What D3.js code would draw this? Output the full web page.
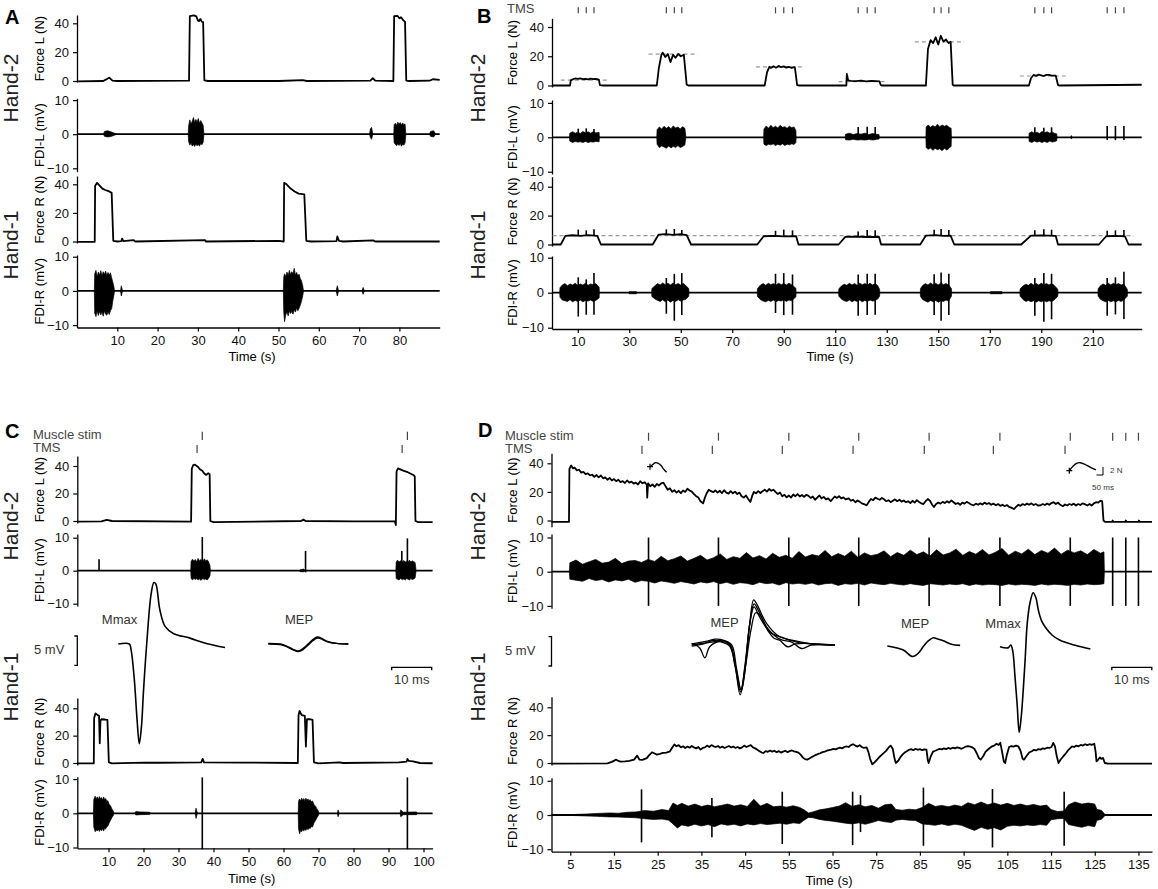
<!DOCTYPE html>
<html>
<head>
<meta charset="utf-8">
<script src="https://cdn.jsdelivr.net/npm/d3@7"></script>
<style>
body { margin: 0; background: #fff; }
svg { font-family: "Liberation Sans", Arial, sans-serif; }
.axis .domain { stroke: #000; stroke-width: 1.3; }
.axis line { stroke: #000; stroke-width: 1.2; }
.axis text { font-size: 13px; fill: #111; }
</style>
</head>
<body>
<script>
// ---------- panel A ----------
var aForceL = [[0,-0.3],[6.5,0],[7.5,1.5],[8,2.3],[8.8,0.3],[10,0],[27.8,0.2],[28,45],[29,45.5],[29.6,44.8],[30,42],[30.3,41.5],[30.6,43],[31,41],[31.3,40.8],[31.6,0.5],[32.5,0],[50,0],[56,0.6],[57,0],[72.8,0.3],[73.4,2],[74,0.2],[78.5,0],[78.7,45],[79.5,45.2],[80,43.5],[80.4,44.2],[81,42],[81.4,41],[81.7,0.3],[82.5,0],[87.5,0.2],[88.3,1.2],[90,0.8]];
var aEmgL = [
  [[27.6,0,0],[27.7,2.5,-2.2],[28,4.2,-3.2],[28.3,3,-2.6],[28.6,3.8,-3.5],[28.9,4.9,-3],[29.2,3.4,-3.6],[29.5,4.3,-2.9],[29.8,3.6,-3.4],[30.1,4.6,-3],[30.4,3.2,-3.5],[30.7,4,-2.7],[31,3.3,-3.1],[31.3,2.6,-2.4],[31.5,0,0]],
  [[78.6,0,0],[78.7,2.8,-2.5],[79,3.2,-3],[79.3,2.6,-3.4],[79.6,3.5,-2.8],[79.9,2.9,-3.3],[80.2,3.4,-2.7],[80.5,2.7,-3.5],[80.8,3.3,-3],[81.1,2.8,-3.2],[81.4,3,-2.6],[81.6,0,0]],
  [[6.6,0,0],[6.8,0.8,-0.6],[7.6,1,-0.8],[8.4,0.7,-0.7],[9.9,0,0]],
  [[72.6,0,0],[72.8,1.6,-1],[73.1,2,-1.5],[73.4,0,0]],
  [[87.5,0,0],[87.7,0.8,-0.6],[88.5,1,-0.8],[89,0,0]]
];
var aForceR = [[0,-0.3],[4.4,-0.2],[4.5,39],[5,41],[5.5,39.5],[6.3,37],[7,36],[8,35],[8.6,34],[9,0.5],[10,0],[11,0.3],[11.2,2],[11.5,0.2],[14,1],[14.5,0],[31.8,1],[32,0],[50,0.5],[51.3,0],[51.4,41],[52,40],[53,37],[54,35],[55,33.5],[56.4,33],[56.9,0.5],[58,0],[64.4,0.3],[64.6,3.5],[65,0.5],[66,0],[73.5,0.8],[74,0],[90,0]];
var aEmgR = [
  [[4.3,0,0],[4.4,5,-6.5],[4.7,6,-7.5],[5,4.2,-5.8],[5.3,5.5,-7.2],[5.6,4.6,-6],[5.9,5.9,-7],[6.2,4.4,-6.2],[6.5,5.6,-7.4],[6.8,4.8,-5.9],[7.1,5.8,-6.8],[7.4,4.5,-7.1],[7.7,5.4,-6.2],[8,4.6,-6.9],[8.3,5.3,-5.8],[8.6,3.8,-5.2],[8.9,2.5,-2.8],[9.2,1,-1],[9.3,0,0]],
  [[51.2,0,0],[51.3,4,-6],[51.5,5,-9],[51.8,4.2,-7],[52.1,5.5,-6.2],[52.4,4.5,-7.3],[52.7,6,-5.9],[53,4.8,-6.6],[53.3,5.6,-6],[53.6,5,-6.8],[53.9,6.6,-5.5],[54.2,4.6,-6.2],[54.5,5.4,-5],[54.8,4.4,-5.8],[55.1,4.9,-5.1],[55.4,3.6,-4.2],[55.7,3,-3],[56,1.5,-1.5],[56.2,0,0]],
  [[10.8,0,0],[11,1.5,-1.5],[11.3,0,0]],
  [[64.3,0,0],[64.6,1.5,-1.5],[64.9,0,0]],
  [[70.7,0,0],[71,1,-1],[71.3,0,0]]
];

// ---------- panel B ----------
var bTms = [10.2,13.3,16.3,44.4,47.5,50.4,86.8,90,93.4,118.9,122.4,125.5,148.4,151.1,154.1,187.5,191,194,215.6,218.8,222.1];
var bForceL = [[0,0],[7,0],[7.3,3.5],[8,4.2],[9,4.8],[10,4.5],[11,4.9],[12,4.4],[13,4.6],[14,4.2],[15,4.7],[16,4.3],[17,4.5],[18.2,4],[18.6,0.3],[20,0],[40.7,0],[41.5,12],[42.5,21],[43,22.5],[44,19.5],[45,21.5],[46,16],[47,21],[48,19],[49,21.5],[50,20],[51.2,21],[52.3,0.5],[53,0],[82.6,0],[83.5,9],[84.4,12.8],[85,12],[86,13.2],[87,12.2],[88,13.4],[89,12.5],[90,13.1],[91,12.2],[92,12.8],[93,12.1],[94.3,12.5],[95.2,0.3],[96,0],[114.3,0],[114.5,8],[115,3.5],[116,3.2],[118,3],[120,3.3],[122,2.8],[124,3.1],[126,3],[127.2,2.8],[127.6,0.5],[128,0],[145.2,0],[146,25],[147,31],[148,29],[149,33],[150,28],[151,34],[152,30],[153,31.5],[154,29],[154.8,30],[155.6,0.5],[156,0],[185.2,0],[186,5],[187,7.2],[188,6.6],[189,7.4],[190,7],[191,6.5],[192,7.3],[193,7.3],[194,6.7],[195.6,6.8],[196.5,0.3],[197,0],[229,0.5]];
var bTargetL = [[3.4,21.6,3.7],[37.5,56.6,21.4],[79.2,98.3,12.8],[111.3,130.4,2.6],[140.9,160,29.8],[181.7,200,6.5]];
var bEmgL = [
  [[6.8,0,0],[6.9,1.2,-1.1],[8,1.6,-1.5],[9,1.2,-1.2],[10,1.5,-1.4],[11,1.1,-1.3],[12,1.7,-1.5],[13,1.3,-1.2],[14,1.6,-1.5],[15,1.2,-1.3],[16,1.6,-1.4],[17,1.3,-1.2],[18.3,1.4,-1.3],[18.4,0,0]],
  [[40.7,0,0],[40.8,2.2,-2],[41.7,3,-3],[42.6,2.4,-2.5],[43.5,3.2,-2.8],[44.4,2.6,-3.2],[45.3,3.1,-2.5],[46.2,2.5,-3.1],[47.1,3.3,-2.6],[48,2.7,-3],[48.9,3,-2.4],[49.8,2.4,-3],[50.7,3.1,-2.7],[51.6,2.6,-2.2],[52,0,0]],
  [[82.2,0,0],[82.3,2.4,-2],[83.2,3.3,-2.4],[84.1,2.6,-2],[85,3.5,-2.2],[85.9,2.8,-1.9],[86.8,3.2,-2.4],[87.7,2.7,-2],[88.6,3.5,-2.3],[89.5,2.9,-1.9],[90.4,3.1,-2.4],[91.3,2.6,-2],[92.2,3.2,-2.2],[93.1,2.8,-1.9],[94,3,-2.1],[94.7,2,-1.5],[94.8,0,0]],
  [[113.9,0,0],[114,0.9,-0.7],[115.5,1.2,-0.8],[117,0.8,-0.6],[118.5,1.1,-0.8],[120,0.9,-0.7],[121.5,1.2,-0.8],[123,0.8,-0.6],[124.5,1.1,-0.8],[126,0.9,-0.6],[127,0.8,-0.5],[127.1,0,0]],
  [[145.2,0,0],[145.3,3,-3],[146.1,3.6,-3.5],[147,2.9,-3.1],[147.9,3.4,-3.8],[148.8,3,-3.2],[149.7,3.8,-3.6],[150.6,3.1,-3.3],[151.5,3.6,-3.9],[152.4,3.2,-3.2],[153.3,3.5,-3.7],[154.2,2.9,-3.2],[155,2.6,-2.6],[155.1,0,0]],
  [[185.2,0,0],[185.3,1.2,-1.2],[186.3,1.6,-1.5],[187.3,1.2,-1.1],[188.3,1.5,-1.4],[189.3,1.1,-1.2],[190.3,1.7,-1.5],[191.3,1.3,-1.2],[192.3,1.6,-1.5],[193.3,1.2,-1.1],[194.3,1.5,-1.4],[195.3,1.1,-1.2],[196,1,-1],[196.1,0,0]],
  [[201.4,0,0],[201.7,0.5,-0.5],[202,0,0]]
];
var bSpikesL = [[10.2,2.5,-1],[13.3,2.6,-1],[16.3,2.4,-1],[118.9,3,-0.8],[122.4,3.1,-0.8],[125.5,3,-0.8],[187.5,2.9,-1],[191,2.8,-1],[194,2.9,-1],[215.6,3.3,-0.8],[218.8,3.3,-0.8],[222.1,3.3,-0.8]];
var bForceR = [[0,0],[3.4,0],[5.2,6],[8,6.4],[11,6],[14,6.5],[17.6,6],[19,0],[39.1,0],[41.4,6.9],[44,7.2],[47,6.7],[50,7.1],[52.3,6.5],[54,0],[79.7,0],[82.2,5.7],[86,6],[90,5.6],[94.8,5.8],[95.7,0],[111.3,0],[113.9,5.3],[118,5.5],[122,5.2],[127,5.3],[127.8,0],[143,0],[145.2,6.2],[149,6.5],[152,6],[154.8,6.2],[156.2,0],[182.2,0],[186,6.2],[190,6.3],[195.6,6],[196.5,0],[212.4,0],[215.2,5.7],[219,5.9],[222.5,5.6],[223.9,0],[229,0]];
var bTwitchR = [[10.2,10.3,6],[13.3,9.8,6],[16.3,10.5,6],[44.4,10.5,7],[47.5,10.7,7],[50.4,10,7],[86.8,9.5,6],[90,10.3,6],[93.4,9.8,6],[118.9,9,5.3],[122.4,10,5.3],[125.5,9.8,5.3],[148.4,10.2,6],[151.1,10.8,6],[154.1,10,6],[187.5,9.8,6],[191,10.5,6],[194,10.2,6],[215.6,9.5,5.7],[218.8,9.8,5.7],[222.1,10,5.7]];
var bTargetR = [[0.2,226,6.2]];
var bEmgR = [
  [[3,0,0],[3.1,1.4,-1.3],[4,2.2,-2.1],[5,2.6,-2.3],[6,2,-2.5],[7,2.5,-2],[8,2.2,-2.6],[9,2.7,-2.2],[10,2.1,-2.5],[11,2.5,-2.1],[12,2.2,-2.6],[13,2.7,-2.2],[14,2.1,-2.4],[15,2.5,-2.1],[16,2.3,-2.5],[17,2.6,-2.2],[18.3,1.6,-1.5],[18.4,0,0]],
  [[38.7,0,0],[38.8,1.2,-1.1],[40,2,-1.8],[41,2.6,-2.2],[42,2.2,-2.5],[43,2.8,-2],[44,2.3,-2.6],[45,2.7,-2.1],[46,2.2,-2.7],[47,2.8,-2.2],[48,2.3,-2.5],[49,2.6,-2],[50,2.2,-2.4],[51,2.7,-2.1],[52,2,-1.9],[53.1,1.2,-1],[53.2,0,0]],
  [[79.7,0,0],[79.8,1.2,-1.1],[81,2.2,-2],[82,2.6,-2.4],[83,2.1,-2.6],[84,2.7,-2.2],[85,2.3,-2.5],[86,2.6,-2.1],[87,2.2,-2.6],[88,2.7,-2.2],[89,2.3,-2.4],[90,2.6,-2],[91,2.2,-2.5],[92,2.7,-2.1],[93,2.3,-2.3],[94.7,1.3,-1.2],[94.8,0,0]],
  [[111.3,0,0],[111.4,1.1,-1],[112.5,2,-1.9],[113.5,2.4,-2.3],[114.5,2.1,-2.5],[115.5,2.7,-2.1],[116.5,2.2,-2.6],[117.5,2.6,-2.2],[118.5,2.1,-2.5],[119.5,2.7,-2.1],[120.5,2.3,-2.6],[121.5,2.6,-2.2],[122.5,2.2,-2.5],[123.5,2.7,-2.1],[124.5,2.2,-2.4],[125.5,2.6,-2.2],[126.5,2,-1.8],[127.2,1,-1],[127.3,0,0]],
  [[143,0,0],[143.1,1.2,-1.1],[144,2.1,-2],[145,2.6,-2.4],[146,2.2,-2.7],[147,2.8,-2.2],[148,2.3,-2.6],[149,2.7,-2.2],[150,2.2,-2.7],[151,2.8,-2.3],[152,2.3,-2.5],[153,2.6,-2.1],[154,2.2,-2.4],[155.1,1.2,-1],[155.2,0,0]],
  [[181.7,0,0],[181.8,1.1,-1],[183,2,-2],[184,2.4,-2.5],[185,2.1,-2.2],[186,2.7,-2.6],[187,2.2,-2.3],[188,2.6,-2.7],[189,2.2,-2.3],[190,2.7,-2.6],[191,2.3,-2.2],[192,2.6,-2.6],[193,2.2,-2.3],[194,2.6,-2.5],[195,2.1,-2.1],[196.4,1,-1],[196.5,0,0]],
  [[212,0,0],[212.1,1.1,-1],[213,2,-1.9],[214,2.5,-2.3],[215,2.1,-2.6],[216,2.7,-2.2],[217,2.2,-2.6],[218,2.7,-2.3],[219,2.3,-2.6],[220,2.6,-2.2],[221,2.2,-2.5],[222,2.5,-2.1],[223.4,1,-1],[223.5,0,0]],
  [[29.7,0,0],[30,0.3,-0.3],[32.8,0.3,-0.3],[33.1,0,0]],
  [[170,0,0],[170.3,0.3,-0.3],[174.7,0.3,-0.3],[175,0,0]]
];
var bSpikesR = [[10.2,4.4,-6.8],[13.3,3.8,-6.3],[16.3,5.6,-6.3],[44.4,4.2,-6],[47.5,5.4,-8],[50.4,5.6,-6.4],[86.8,5.4,-5.8],[90,5.6,-6.4],[93.4,5.2,-6.3],[118.9,5.2,-6.6],[122.4,5.4,-6.4],[125.5,5.4,-6.3],[148.4,5.3,-6.4],[151.1,5.8,-8],[154.1,5.4,-6.4],[187.5,4.2,-6.6],[191,5.6,-8.3],[194,5.4,-7.6],[215.6,4.2,-6.6],[218.8,4.4,-6.2],[222.1,6,-7.5]];

// ---------- panel C ----------
var cStim = [36.8, 95.4];
var cTms = [35.3, 93.9];
var cForceL = [[1,-0.5],[8,-0.3],[9.5,0.8],[11,0],[33.6,-0.5],[33.8,38],[34.2,40.7],[34.7,41],[35.5,39.5],[36.1,37.6],[36.8,36.5],[37.3,34.7],[37.9,33.5],[38.5,34.7],[38.9,34],[39.1,0],[40,-0.8],[65,0],[65.7,1],[66.3,0],[80,-0.3],[91.8,-0.2],[92.1,-3],[92.3,36],[92.7,38.3],[94.2,36.6],[95.5,35.5],[97.1,33.5],[97.5,32.5],[97.7,0],[98.5,-0.8],[102.6,-0.8]];
var cEmgL = [
  [[33.5,0,0],[33.6,2.8,-2.4],[34,3.5,-2.8],[34.4,2.9,-2.3],[34.8,3.4,-2.7],[35.2,2.7,-2.4],[35.6,3.7,-2.8],[36,3,-2.5],[36.4,3.4,-2.9],[37,2.8,-2.4],[37.4,3.6,-2.7],[37.8,2.9,-2.5],[38.2,3.3,-2.8],[38.6,2.7,-2.3],[39,1.5,-1.5],[39.1,0,0]],
  [[92.1,0,0],[92.2,2.6,-2.4],[92.6,3.2,-2.6],[93,2.6,-2.8],[93.4,3,-2.4],[94,2.7,-2.7],[94.4,3.1,-2.5],[94.8,2.6,-2.8],[95.2,2.9,-2.4],[95.6,2.7,-2.6],[96,3.2,-2.8],[96.4,2.6,-2.4],[96.8,3,-2.7],[97.2,2.7,-2.5],[97.6,2.5,-2.2],[97.9,0,0]],
  [[64.5,0,0],[64.8,0.3,-0.3],[65.8,0.5,-0.3],[66.1,0,0]]
];
var cSpikesL = [[7.3,3.5,0],[36.8,10.2,0],[66.3,6,-0.5],[93.8,6,0],[95.4,9.8,0]];
var cForceR = [[1,-0.3],[5.8,-0.3],[5.9,33],[6.3,36.3],[6.9,35],[7.3,34.5],[7.5,14.4],[7.7,31],[8,32],[9,31.8],[9.7,31.5],[10.1,0.5],[11,-0.3],[20,0.3],[24,0.2],[36.5,0.5],[36.9,3],[37.3,0.5],[48,0.3],[64.1,0],[64.3,35],[64.6,38],[65.2,35],[66.1,34.4],[66.4,12],[66.7,32],[67.5,32],[68.3,31.5],[68.7,0.5],[70,-0.3],[76,0.5],[77,0],[93,0.5],[95.2,1],[95.4,3],[95.8,1.5],[97,1.2],[99,0],[102.6,-0.2]];
var cEmgR = [
  [[5.7,0,0],[5.8,4,-4],[6.2,5,-5.4],[6.5,4.2,-4.8],[6.8,4.8,-5.2],[7.1,4,-4.6],[7.4,4.9,-5.3],[7.7,4.2,-4.7],[8,4.6,-5.1],[8.3,3.9,-4.5],[8.6,4.8,-5.2],[8.9,4,-4.4],[9.2,4.3,-4.6],[9.5,3.5,-3.9],[9.8,3.7,-3.8],[10.2,2.6,-2.8],[10.6,2.2,-2],[11,1.2,-1.2],[11.4,0.6,-0.6],[11.5,0,0]],
  [[64.2,0,0],[64.3,3.5,-4.5],[64.6,4.2,-6],[64.9,3.6,-5],[65.2,4.4,-5.4],[65.5,3.8,-4.7],[65.8,4.3,-5.2],[66.1,3.7,-4.6],[66.4,4.4,-5],[66.7,3.8,-4.4],[67,4.2,-4.8],[67.3,3.6,-4.2],[67.6,4,-4.5],[67.9,3.4,-3.9],[68.3,3.6,-4],[68.7,2.6,-2.8],[69.2,2,-2],[69.6,1.2,-1.2],[70,0.6,-0.6],[70.1,0,0]],
  [[17.6,0,0],[17.8,0.5,-0.5],[19,0.4,-0.4],[21.8,0.3,-0.3],[22,0,0]],
  [[34.8,0,0],[35,1.5,-1.5],[35.3,0.4,-0.4],[35.5,0,0]],
  [[75.4,0,0],[75.6,1,-1],[75.9,0,0]],
  [[93.3,0,0],[93.5,1,-1],[94.2,0.3,-0.4],[98,0.4,-0.4],[98.2,0,0]]
];
var cSpikesR = [[36.8,10.5,-10.5],[95.4,10.5,-10.5]];
var cMmax = [[0,0],[2.75,0],[3.2,-1],[4.0,-6],[4.7,-13],[5.25,-17],[5.8,-14],[6.3,-8],[7.1,0],[8.2,8.5],[8.9,10.5],[9.4,10.2],[10.4,5.8],[11.7,3.0],[13.75,1.8],[17.9,1.0],[22,0.1],[26.7,-0.6]];
var cMep = [
  [[0,0],[3,-0.1],[4.6,-0.45],[6.2,-1.0],[7.5,-1.3],[8.8,-0.9],[10,-0.17],[11.2,0.6],[12.25,1],[13.5,0.8],[14.6,0.4],[17,0.1],[20,0]],
  [[0,0.1],[3,0],[4.6,-0.35],[6.2,-0.9],[7.5,-1.2],[8.8,-0.7],[10,0.05],[11.2,0.8],[12.25,1.2],[13.5,0.9],[14.6,0.5],[17,0.1],[20,0]]
];

// ---------- panel D ----------
var dStim = [22.9,38.9,55,71,87.1,103.3,119.4,129.1,132.1,135];
var dTms = [21.4,37.5,53.5,69.7,86,101.8,118.2];
var dForceL = [[0.7,-1],[4.7,-1],[4.8,36],[5.2,38.5],[5.6,36.5],[6,37],[6.5,35],[7,35.5],[7.5,33.5],[8,34],[8.5,32.5],[9,33],[9.5,31.5],[10,32],[10.5,30.5],[11,31.8],[11.5,30.2],[12,31.5],[12.5,29.5],[13,30.2],[13.5,28.5],[14,29.8],[14.5,28],[15,29],[15.5,27.5],[16,28.5],[16.5,26.8],[17,27.5],[17.5,26.2],[18,28],[18.5,26.5],[19,27.2],[19.5,25.8],[20,26.5],[20.5,25.2],[21,27.5],[21.5,26],[22,26.8],[22.5,25],[22.6,16],[22.8,26],[23.3,24],[23.8,25.2],[24.3,23.5],[24.8,25.5],[25.3,24.5],[25.8,26],[26.3,26.5],[26.8,24],[27.3,21.5],[27.8,22.5],[28.3,20],[28.8,21.2],[29.3,19.5],[29.8,20.8],[30.3,19.2],[30.8,21],[31.3,20],[31.8,22.2],[32.3,21],[32.8,20.2],[33.3,18.5],[33.8,17],[34.3,16],[34.8,13.5],[35.4,12],[35.8,16],[36.2,19],[36.7,21.5],[37.2,20.5],[37.7,19.8],[38.2,21],[38.7,19.5],[39.2,20.8],[39.7,19.2],[40.2,21.2],[40.7,19.5],[41.2,18.8],[41.7,20.5],[42.2,19],[42.7,20.2],[43.2,18.5],[43.7,19.5],[44.2,17],[44.7,16],[45.2,17.5],[45.7,15],[46.2,13],[46.6,17],[47,20],[47.5,19],[48,20.5],[48.5,19.2],[49,20.5],[49.5,21.5],[50,20.2],[50.5,22],[51,20.8],[51.5,21.5],[52,19.8],[52.5,18.5],[53,19.5],[53.5,17],[54,18],[54.5,16.2],[55,17.5],[55.5,16],[56,18.2],[56.5,17],[57,18.5],[57.5,16.8],[58,17.8],[58.5,16.5],[59,18],[59.5,17.2],[60,15.8],[60.5,16.8],[61,14.5],[61.5,16],[62,17.5],[62.5,15.5],[63,16.5],[63.5,14.8],[64,15.5],[64.6,13.5],[65,15],[65.5,16.8],[66,15.8],[66.5,17],[67,15.5],[67.5,16.2],[68,14.8],[68.7,15.5],[69.2,13.8],[69.7,14.5],[70.2,12.8],[70.7,14],[71.2,13.2],[71.7,12],[72.2,11.5],[72.8,10.6],[73.3,13],[73.8,15],[74.3,14.2],[74.8,16],[75.3,15.2],[75.8,14.5],[76.3,15.8],[76.8,14.8],[77.3,13.5],[77.8,14.2],[78.3,12.8],[78.8,13.8],[79.3,14.8],[79.8,13.5],[80.3,14.5],[80.8,13.2],[81.3,14],[81.8,12.8],[82.3,13.5],[82.8,12.2],[83.3,13.8],[83.8,12.5],[84.3,14.2],[84.8,13],[85.3,12],[85.8,11.5],[86.3,13.5],[86.8,15],[87.3,13.8],[87.8,11],[88.2,9.4],[88.7,11.5],[89.2,12.5],[89.7,11.8],[90.2,13],[90.7,12.2],[91.2,13.5],[91.7,12.5],[92.2,14],[92.7,12.8],[93.2,11.5],[93.7,12.2],[94.2,11],[94.7,12.5],[95.2,11.8],[95.7,13],[96.2,12.2],[96.7,11.2],[97.3,10.6],[97.8,11.8],[98.3,11],[98.8,12],[99.3,11.2],[99.8,12.5],[100.3,11.5],[100.8,12.2],[101.3,11],[101.8,11.8],[102.4,10.6],[102.9,11.5],[103.4,10.2],[103.9,11],[104.4,10],[104.9,10.8],[105.4,9.5],[105.9,9],[106.5,8],[107,9.5],[107.5,11],[108,10.2],[108.5,11.5],[109,10.8],[109.5,11.8],[110,11],[110.5,12],[111,10.8],[111.5,11.5],[112,10.5],[112.6,10.6],[113.1,11.5],[113.6,10.8],[114.1,11.8],[114.6,11],[115.1,12.2],[115.6,12.8],[116.1,11.5],[116.6,12.5],[117.1,11],[117.7,10],[118.2,11.2],[118.7,10.5],[119.2,11.5],[119.7,10.8],[120.2,11.8],[120.7,10.5],[121.2,11.5],[121.7,10.8],[122.2,12],[122.8,11.3],[123.3,10.5],[123.8,11.5],[124.3,10.5],[124.8,12],[125.3,12.8],[125.8,12.5],[126.3,13.8],[126.7,13.5],[127,0],[127.4,-1],[129,-1],[129.1,0],[129.3,-1],[132,-1],[132.1,0],[132.3,-1],[135,-1],[135.1,0],[135.3,-1],[138.1,-1]];
var dEmgL = [[[4.8,0,0],[4.9,2.6,-2.2],[6.3,3.4,-2.5],[7.8,2.2,-2.8],[9.3,2.9,-2],[10.8,3.6,-2.6],[12.3,2.5,-2.3],[13.8,2.8,-3],[15.3,3.9,-2.4],[16.8,2.4,-2.7],[18.3,3.1,-2.2],[19.8,3.3,-3.1],[21.3,2.7,-2.6],[22.8,3.6,-2.8],[24.3,3,-3.3],[25.8,4.5,-2.7],[27.3,3.2,-3],[28.8,3.8,-3.4],[30.3,4.6,-2.9],[31.8,3.1,-3.2],[33.3,3.9,-3.6],[34.8,4.8,-3],[36.3,3.4,-3.3],[37.8,4.1,-2.9],[39.3,5.2,-3.5],[40.8,3.6,-3.1],[42.3,4.4,-3.7],[43.8,3.9,-3.2],[45.3,5.6,-3.4],[46.8,4,-3.8],[48.3,4.7,-3.1],[49.8,3.7,-3.5],[51.3,5.4,-3.3],[52.8,4.2,-3.9],[54.3,4.8,-3.2],[55.8,3.9,-3.6],[57.3,5.9,-3.4],[58.8,4.3,-3.7],[60.3,5,-3.3],[61.8,4.6,-3.9],[63.3,6.2,-3.5],[64.8,4.4,-3.4],[66.3,5.3,-4],[67.8,4.5,-3.5],[69.3,6,-3.7],[70.8,4.2,-3.4],[72.3,5.5,-3.9],[73.8,4.7,-3.3],[75.3,5.1,-3.6],[76.8,6.1,-3.8],[78.3,4.4,-3.4],[79.8,5.6,-3.7],[81.3,4.8,-3.9],[82.8,6.3,-3.5],[84.3,5,-3.8],[85.8,5.8,-4],[87.3,4.6,-3.5],[88.8,6.4,-3.7],[90.3,4.9,-3.9],[91.8,5.5,-3.6],[93.3,6.6,-3.8],[94.8,4.8,-3.5],[96.3,5.9,-4],[97.8,5.1,-3.6],[99.3,6.5,-3.9],[100.8,4.9,-3.7],[102.3,5.7,-3.8],[103.8,6.8,-4],[105.3,4.8,-3.6],[106.8,6,-3.9],[108.3,5.2,-3.7],[109.8,6.6,-3.8],[111.3,5,-4],[112.8,6.2,-3.6],[114.3,5.4,-3.9],[115.8,6.9,-3.7],[117.3,5.1,-3.8],[118.8,6.3,-4],[120.3,5.5,-3.7],[121.8,6.1,-3.9],[123.3,5,-3.6],[124.8,6.5,-3.8],[126.3,5.4,-3.7],[127.1,5.8,-3.5],[127.2,0,0]]];
var dSpikesL = [[22.9,10,-10],[38.9,10,-10],[55,10,-10],[71,10,-10],[87.1,10,-10],[103.3,10,-10],[119.4,10,-10],[129.1,10,-10],[132.1,10,-10],[135,10,-10]];
var dForceR = [[0.7,-0.5],[13.5,-0.3],[14.5,0.8],[15.5,2.4],[16,1.5],[16.5,1],[17.5,1.2],[18.5,1.5],[19.6,2.4],[20.3,5.3],[20.8,2.5],[21.5,2.2],[22.5,3.5],[23,5.5],[23.7,7.7],[24.3,6.8],[24.8,6],[25.5,6.5],[26.2,7.2],[27,7.5],[27.8,8.4],[28.3,11],[28.8,13.3],[29.3,12],[29.8,12.8],[30.3,11.2],[30.8,12],[31.3,10.8],[31.8,11.8],[32.3,11],[32.8,12.2],[33.3,11.2],[33.8,10.5],[34.3,11.5],[34.8,9.6],[35.3,10.8],[35.8,11.2],[36.3,12.5],[36.8,11.5],[37.3,12.8],[37.8,12],[38.3,11.5],[38.8,12.2],[39.3,11],[39.8,11.8],[40.3,10.8],[40.8,11.5],[41.3,12.2],[41.8,11.2],[42.3,11.8],[42.8,10.8],[43.3,11.5],[43.8,10.5],[44.3,11.2],[44.8,12.5],[45.3,11.5],[45.8,12.2],[46.3,12.8],[46.8,11.2],[47.3,10.5],[47.8,9.5],[48.3,8.5],[48.8,7.5],[49.2,7.2],[49.7,8.5],[50.2,8],[50.7,9],[51.2,8.2],[51.7,8.8],[52.2,7.8],[52.7,8.5],[53.2,7.5],[53.7,8.2],[54.2,8.8],[54.7,7.8],[55.2,8.5],[55.7,9],[56.2,8.4],[56.7,8],[57.2,7.5],[57.7,6],[58.2,4],[58.7,2.8],[59.2,2.4],[59.7,3.2],[60.2,4.2],[60.7,5],[61.2,5.8],[61.7,6.5],[62.2,7],[62.7,7.8],[63.2,8.2],[63.7,8.8],[64.2,9.2],[64.7,9.6],[65.2,10.2],[65.7,9.8],[66.2,10.5],[66.7,11],[67.2,10.5],[67.7,11.5],[68.2,12],[68.7,11.5],[69.2,12.8],[69.7,13.5],[70.2,12.5],[70.7,11.8],[71.2,12.8],[71.7,11.5],[72.2,10.8],[72.8,11.2],[73.2,8],[73.6,3],[74.1,-1],[74.6,0.5],[75.2,2.5],[75.8,4.5],[76.5,6.5],[77.2,8.5],[77.8,11],[78.3,12.5],[78.8,10],[79.2,3],[79.5,0],[80,1.5],[80.5,4],[81,6],[81.5,7.5],[82,8.5],[82.5,9.5],[83,10],[83.5,9.2],[84,10.2],[84.5,9.5],[85,10],[85.5,9.2],[86,9.8],[86.5,9.6],[86.8,2],[87,0],[87.5,5],[88,8.2],[88.5,8.8],[89,9.5],[89.5,10.2],[90,9.8],[90.5,10.5],[91,10],[91.5,10.8],[92,10.2],[92.5,11],[93,10.5],[93.5,11.2],[94,10.8],[94.5,10.2],[95,11],[95.5,11.8],[96,12.2],[96.5,11.8],[97,11.2],[97.5,10],[98,7],[98.5,3.5],[98.9,2.4],[99.5,5],[100,8],[100.5,9.5],[101,10.8],[101.5,12],[102,12.5],[102.5,13.8],[103,13],[103.4,14.5],[103.8,8],[104.2,1],[104.5,0],[104.9,6],[105.4,11.5],[105.9,12.2],[106.4,11.8],[107,12.5],[107.5,12],[108,9],[108.5,3],[108.8,2.4],[109.5,5.5],[110,7.5],[110.6,8.4],[111.1,9.5],[111.6,9],[112.1,10],[112.6,9.6],[113.1,10.5],[113.6,10.2],[114.1,11],[114.6,10.8],[115.1,11.5],[115.5,14.5],[115.9,12],[116.3,5],[116.7,0],[117.2,2.5],[117.8,4.8],[118.4,7],[119,9.5],[119.8,12],[120.3,11.5],[120.8,12.5],[121.3,12],[121.8,13],[122.3,12.5],[122.8,13.5],[123.3,12.8],[123.8,13.5],[124.3,13],[124.9,13.8],[125.2,8],[125.4,1.2],[125.8,2.5],[126.2,4],[126.5,3],[126.9,3.6],[127.3,0],[128,-0.5],[138.1,-0.5]];
var dEmgR = [[[4.5,0,0],[4.6,0.1,-0.1],[8,0.25,-0.25],[11,0.45,-0.4],[14,0.6,-0.55],[16,0.5,-0.6],[18,0.8,-0.7],[20,0.9,-0.8],[22,1.3,-1.1],[24,1.1,-1.3],[26,1.6,-1.2],[27.5,1.3,-1.5],[28.5,3.5,-2.6],[29.5,2.8,-3.8],[30.5,3.4,-2.9],[32,2.6,-3.3],[33.5,3.2,-2.7],[35,2.5,-3.2],[36.5,2.9,-2.8],[38,2.4,-3.4],[39.5,2.8,-2.6],[41,3.2,-3],[42.5,2.6,-2.7],[44,3,-3.2],[45.5,2.5,-2.6],[47,4.6,-2.9],[48.5,2.6,-2.5],[50,3.4,-2.8],[51.5,2.4,-2.6],[53,2.6,-2.4],[54.5,2.3,-2.7],[56,2.7,-2.3],[57.5,2.2,-2.5],[58.5,1.5,-1.5],[59.5,0.6,-0.7],[60.5,0.9,-0.8],[62,1.5,-1.3],[63.5,1.8,-1.6],[65,2.2,-1.8],[66.5,2.6,-2.1],[68,3.6,-2.4],[69.5,2.5,-2.6],[71,3,-2.3],[72.5,2.4,-2.7],[74,2.8,-2.2],[75.5,2,-1.6],[77,3,-2],[78.5,3.2,-2.2],[79.5,1.6,-1.5],[81,1.4,-1.3],[82.5,1.7,-1.5],[84,1.5,-1.6],[85.5,2.2,-2.6],[87,3.4,-2.8],[88.5,2.5,-3],[90,2.8,-2.6],[91.5,2.4,-3.1],[93,2.9,-2.7],[94.5,2.5,-3],[96,3.6,-3.8],[97.5,3,-4.5],[99,3.8,-3.6],[100.5,3,-4.2],[102,3.5,-3.7],[103.5,2.9,-4.4],[105,3.4,-3.3],[106.5,2.8,-3],[108,3.2,-3.2],[109.5,2.7,-2.9],[111,3.1,-3.1],[112.5,2.6,-2.8],[114,2.9,-3],[115,1.6,-1.4],[116.5,1,-1.1],[118,1.2,-1],[119,3,-2.8],[120.5,3.8,-3.2],[122,3.2,-3.6],[123.5,3.5,-3.1],[125,3.2,-3.4],[125.5,1.6,-1.5],[126.5,1.4,-1.3],[127.3,0.2,-0.2],[127.4,0,0]]];
var dSpikesR = [[21.3,7.5,-8],[37.4,5,-6.5],[53.5,6.8,-8.5],[69.6,6.8,-8.8],[71.4,5.8,-5],[85.8,8,-9],[101.6,7.6,-9.5],[118,6.8,-9]];
var dMep1 = [
  [[0,0],[3,0.3],[5,0.5],[7.5,0.8],[9.5,0.2],[10.8,-3],[12.1,-8.5],[13.2,-5],[14.4,3],[15.5,7.7],[16.4,6.8],[18.7,3.7],[22,1.4],[25.4,0.8],[30,0.2],[35.8,0]],
  [[0,0.3],[2,-0.5],[3.3,-2.2],[4.5,-0.3],[7,0.6],[9.5,0],[10.8,-3.5],[12.2,-8],[13.3,-4],[14.5,3.5],[15.6,7],[16.6,6],[18.8,3],[22,1],[25,0.5],[27.5,-0.6],[30,0],[35.8,0]],
  [[0,-0.2],[3,0.2],[5.5,0.8],[7.5,0.5],[9.5,-0.2],[11,-3.8],[12.3,-7.6],[13.4,-3],[14.6,4],[15.6,6.5],[16.8,5],[19,2.5],[20.5,1.2],[22,0.8],[24,-0.3],[26,0.2],[35.8,0]],
  [[0,0.2],[3.5,0.6],[6,1],[8,0.8],[10,0],[11.2,-4],[12.4,-7.8],[13.5,-3.5],[14.8,2.5],[16,5.5],[17.2,5],[19.5,2.2],[23,1.2],[27,0.4],[35.8,0]]
];
var dMep2 = [[0,0],[4,-0.7],[6.35,-1.8],[7.8,-1.2],[9,-0.1],[10.3,0.9],[11.5,1.4],[12.6,1.2],[14,0.9],[16,0.3],[18.2,0.1]];
var dMmax = [[0,0],[2,-0.2],[2.7,0.3],[3.2,-0.8],[3.75,-5.1],[4.3,-10],[4.8,-14.6],[5.3,-12],[5.8,-7.5],[6.3,-2],[6.8,3.9],[7.5,7.5],[8.3,9.2],[9,8.3],[9.6,6.2],[10.4,4.4],[11.25,3.4],[13,2],[15,1.1],[19,0.2],[22.6,-0.4]];
// twitch insets on Force L (ms, N)
var dTwitch1 = [[0,0],[20,0.5],[40,1],[60,0.9],[85,0.3],[105,-0.6],[128,-1.4]];
var dTwitch2 = [[0,0],[30,1.2],[60,1.9],[85,2],[120,1.6],[160,0.9],[205,0.2]];

var emgTicks = [-10, 0, 10];
var forceTicks = [0, 20, 40];

var svg = d3.select("body").append("svg").attr("width", 1158).attr("height", 889);

var line = d3.line();

function drawPanel(P) {
    var g = svg.append("g");
    var x = d3.scaleLinear().domain(P.xDomain).range(P.xRange);

    P.rows.forEach(function (r) {
        var y0 = d3.scaleLinear().domain([0, r.ref[0]]).range([r.zero, r.ref[1]]);
        var y = d3.scaleLinear().domain([y0.invert(r.bottom), y0.invert(r.top)]).range([r.bottom, r.top]);

        g.append("g").attr("class", "axis")
            .attr("transform", "translate(" + P.xRange[0] + ",0)")
            .call(d3.axisLeft(y).tickValues(r.ticks).tickSize(4).tickSizeOuter(0).tickPadding(4).tickFormat(d3.format("d")));

        (r.target || []).forEach(function (d) {
            g.append("line").attr("x1", x(d[0])).attr("x2", x(d[1]))
                .attr("y1", y(d[2])).attr("y2", y(d[2]))
                .attr("stroke", "#999").attr("stroke-width", 1.2).attr("stroke-dasharray", "4,3");
        });

        if (r.emg) {
            g.append("line").attr("x1", x(P.xDomain[0])).attr("x2", x(P.xDomain[1]))
                .attr("y1", y(0)).attr("y2", y(0)).attr("stroke", "#000").attr("stroke-width", 1.8);
            var area = d3.area().x(d => x(d[0])).y0(d => y(d[2])).y1(d => y(d[1]));
            r.emg.forEach(function (b) {
                g.append("path").attr("d", area(b)).attr("fill", "#000")
                    .attr("stroke", "#000").attr("stroke-width", 0.7).attr("stroke-linejoin", "miter");
            });
        }
        if (r.trace) {
            g.append("path").attr("d", line.x(d => x(d[0])).y(d => y(d[1]))(r.trace))
                .attr("fill", "none").attr("stroke", "#000").attr("stroke-width", 1.8)
                .attr("stroke-linejoin", "round");
        }
        (r.spikes || []).forEach(function (s) {
            g.append("line").attr("x1", x(s[0])).attr("x2", x(s[0]))
                .attr("y1", y(s[1])).attr("y2", y(s[2]))
                .attr("stroke", "#000").attr("stroke-width", 1.6);
        });

        g.append("text")
            .attr("transform", "translate(" + P.titleX + "," + ((r.top + r.bottom) / 2) + ") rotate(-90)")
            .attr("text-anchor", "middle").attr("dominant-baseline", "middle")
            .style("font-size", "13px").text(r.title);
    });

    var last = P.rows[P.rows.length - 1];
    g.append("g").attr("class", "axis")
        .attr("transform", "translate(0," + last.bottom + ")")
        .call(d3.axisBottom(x).tickValues(P.xTicks).tickSize(4).tickSizeOuter(0).tickPadding(4));
    g.append("text").attr("x", P.timeLabel[0]).attr("y", P.timeLabel[1])
        .attr("text-anchor", "middle").attr("dominant-baseline", "middle")
        .style("font-size", "13px").text("Time (s)");

    // stimulus markers
    (P.markers || []).forEach(function (m) {
        g.append("text").attr("x", m.labelX).attr("y", (m.y1 + m.y2) / 2 - 0.5)
            .attr("dominant-baseline", "middle").style("font-size", "13px").attr("fill", "#444").text(m.label);
        m.times.forEach(function (t) {
            g.append("line").attr("x1", x(t)).attr("x2", x(t)).attr("y1", m.y1).attr("y2", m.y2)
                .attr("stroke", "#444").attr("stroke-width", 1.2);
        });
    });

    g.append("text").attr("x", P.letter[0]).attr("y", P.letter[1])
        .style("font-size", "20px").style("font-weight", "bold").text(P.id);
    P.hands.forEach(function (h) {
        g.append("text")
            .attr("transform", "translate(" + P.handX + "," + h[1] + ") rotate(-90)")
            .attr("text-anchor", "middle").attr("dominant-baseline", "middle")
            .style("font-size", "21px").attr("fill", "#222").text(h[0]);
    });
    return x;
}

function drawInset(traces, ox, oy, label, labelPos, width) {
    var xs = d3.scaleLinear().domain([0, 10]).range([ox, ox + 40]);
    var ys = d3.scaleLinear().domain([0, 5]).range([oy, oy - 29.3]);
    var l = d3.line().x(d => xs(d[0])).y(d => ys(d[1])).curve(d3.curveCatmullRom.alpha(0.5));
    traces.forEach(function (t) {
        svg.append("path").attr("d", l(t)).attr("fill", "none")
            .attr("stroke", "#000").attr("stroke-width", width || 1.6);
    });
    svg.append("text").attr("x", labelPos[0]).attr("y", labelPos[1])
        .attr("text-anchor", "middle").attr("dominant-baseline", "middle")
        .style("font-size", "13px").attr("fill", "#333").text(label);
}

function scaleBars(vx, vy, hx, hy, lx) {
    // 5 mV vertical bracket
    svg.append("path").attr("d", "M" + (vx - 3) + "," + vy + "H" + vx + "V" + (vy + 29.3) + "H" + (vx - 3))
        .attr("fill", "none").attr("stroke", "#000").attr("stroke-width", 1.3);
    svg.append("text").attr("x", lx).attr("y", vy + 14.5).attr("dominant-baseline", "middle")
        .style("font-size", "13px").attr("fill", "#333").text("5 mV");
    // 10 ms bar
    svg.append("path").attr("d", "M" + hx + "," + (hy + 3) + "V" + hy + "H" + (hx + 40) + "V" + (hy + 3))
        .attr("fill", "none").attr("stroke", "#000").attr("stroke-width", 1.3);
    svg.append("text").attr("x", hx + 20).attr("y", hy + 13).attr("text-anchor", "middle")
        .attr("dominant-baseline", "middle").style("font-size", "13px").attr("fill", "#333").text("10 ms");
}

drawPanel({
    id: "A", letter: [5, 24], xDomain: [0, 90], xRange: [77, 439.7], xTicks: d3.range(10, 81, 10),
    timeLabel: [252, 358], titleX: 41, handX: 12.5, hands: [["Hand-2", 88], ["Hand-1", 245]],
    rows: [
        { title: "Force L (N)", zero: 81, ref: [40, 23.3], top: 15, bottom: 82, ticks: forceTicks, trace: aForceL },
        { title: "FDI-L (mV)", zero: 134.2, ref: [10, 100.1], top: 98.3, bottom: 171.7, ticks: emgTicks, emg: aEmgL },
        { title: "Force R (N)", zero: 241.5, ref: [40, 184.3], top: 176, bottom: 243, ticks: forceTicks, trace: aForceR },
        { title: "FDI-R (mV)", zero: 290.9, ref: [10, 256.7], top: 255, bottom: 327.5, ticks: emgTicks, emg: aEmgR }
    ]
});

drawPanel({
    id: "B", letter: [477, 23], xDomain: [0, 229], xRange: [552, 1141.7], xTicks: d3.range(10, 211, 20),
    timeLabel: [830, 358], titleX: 514, handX: 479, hands: [["Hand-2", 88], ["Hand-1", 245]],
    markers: [{ label: "TMS", labelX: 507, y1: 7.3, y2: 13.3, times: bTms }],
    rows: [
        { title: "Force L (N)", zero: 85.5, ref: [40, 27], top: 18.3, bottom: 87, ticks: forceTicks, trace: bForceL, target: bTargetL },
        { title: "FDI-L (mV)", zero: 137.3, ref: [10, 102.9], top: 100, bottom: 174, ticks: emgTicks, emg: bEmgL, spikes: bSpikesL },
        { title: "Force R (N)", zero: 244.5, ref: [40, 186.7], top: 176.7, bottom: 246, ticks: forceTicks, trace: bForceR, target: bTargetR, spikes: bTwitchR },
        { title: "FDI-R (mV)", zero: 292.7, ref: [10, 257.7], top: 256, bottom: 329, ticks: emgTicks, emg: bEmgR, spikes: bSpikesR }
    ]
});

drawPanel({
    id: "C", letter: [5, 438], xDomain: [1.09, 102.6], xRange: [77.3, 432.6], xTicks: d3.range(10, 101, 10),
    timeLabel: [251.7, 880], titleX: 41, handX: 12.5, hands: [["Hand-2", 526], ["Hand-1", 687]],
    markers: [
        { label: "Muscle stim", labelX: 33, y1: 431.7, y2: 440, times: cStim },
        { label: "TMS", labelX: 33, y1: 445, y2: 453, times: cTms }
    ],
    rows: [
        { title: "Force L (N)", zero: 521, ref: [40, 466], top: 456, bottom: 523, ticks: forceTicks, trace: cForceL },
        { title: "FDI-L (mV)", zero: 570.7, ref: [10, 537.7], top: 534, bottom: 606, ticks: emgTicks, emg: cEmgL, spikes: cSpikesL },
        { title: "Force R (N)", zero: 763, ref: [40, 708.3], top: 698, bottom: 765, ticks: forceTicks, trace: cForceR },
        { title: "FDI-R (mV)", zero: 813.3, ref: [10, 779.1], top: 776.7, bottom: 848.3, ticks: emgTicks, emg: cEmgR, spikes: cSpikesR }
    ]
});

drawPanel({
    id: "D", letter: [478, 437], xDomain: [0.7, 138.1], xRange: [551.5, 1152], xTicks: d3.range(5, 136, 10),
    timeLabel: [829, 881.5], titleX: 514, handX: 479, hands: [["Hand-2", 526], ["Hand-1", 687]],
    markers: [
        { label: "Muscle stim", labelX: 505, y1: 432.7, y2: 440.7, times: dStim },
        { label: "TMS", labelX: 505, y1: 445.7, y2: 454, times: dTms }
    ],
    rows: [
        { title: "Force L (N)", zero: 520.5, ref: [40, 463.3], top: 453.3, bottom: 526.7, ticks: forceTicks, trace: dForceL },
        { title: "FDI-L (mV)", zero: 571.7, ref: [10, 537.5], top: 534, bottom: 608.3, ticks: emgTicks, emg: dEmgL, spikes: dSpikesL },
        { title: "Force R (N)", zero: 763, ref: [40, 707.3], top: 696.7, bottom: 765, ticks: forceTicks, trace: dForceR },
        { title: "FDI-R (mV)", zero: 815, ref: [10, 780.8], top: 777.7, bottom: 851.7, ticks: emgTicks, emg: dEmgR, spikes: dSpikesR }
    ]
});

// evoked responses (C)
drawInset([cMmax], 118.3, 644, "Mmax", [119.5, 620.7]);
drawInset(cMep, 268.3, 644, "MEP", [299, 620.7], 1.4);
scaleBars(77.3, 636, 391.7, 667.3, 34);

// evoked responses (D)
drawInset(dMep1, 691.7, 645, "MEP", [724.5, 623.3], 1.3);
drawInset([dMep2], 887.3, 646, "MEP", [915, 625]);
drawInset([dMmax], 1000, 646.7, "Mmax", [1003, 625]);
scaleBars(551.5, 636.7, 1111.8, 667.3, 505);

// twitch insets on D force
var tx = d3.scaleLinear().domain([0, 50]).range([0, 6.5]);
var ty = d3.scaleLinear().domain([0, 2]).range([0, -8]);
[[dTwitch1, 650, 466.7], [dTwitch2, 1069.3, 470.7]].forEach(function (tw) {
    var l = d3.line().x(d => tw[1] + tx(d[0])).y(d => tw[2] + ty(d[1])).curve(d3.curveCatmullRom);
    svg.append("path").attr("d", l(tw[0])).attr("fill", "none").attr("stroke", "#000").attr("stroke-width", 1.4);
    svg.append("path").attr("d", "M" + (tw[1] - 3) + "," + tw[2] + "h6M" + tw[1] + "," + (tw[2] - 3) + "v6")
        .attr("stroke", "#000").attr("stroke-width", 1.2);
});
svg.append("path").attr("d", "M" + (1103 - tx(50)) + ",475H1103V" + (475 + ty(2)))
    .attr("fill", "none").attr("stroke", "#000").attr("stroke-width", 1);
svg.append("text").attr("x", 1110).attr("y", 471).attr("dominant-baseline", "middle")
    .style("font-size", "8px").attr("fill", "#333").text("2 N");
svg.append("text").attr("x", 1103).attr("y", 488).attr("text-anchor", "middle").attr("dominant-baseline", "middle")
    .style("font-size", "8px").attr("fill", "#333").text("50 ms");
</script>
</body>
</html>
